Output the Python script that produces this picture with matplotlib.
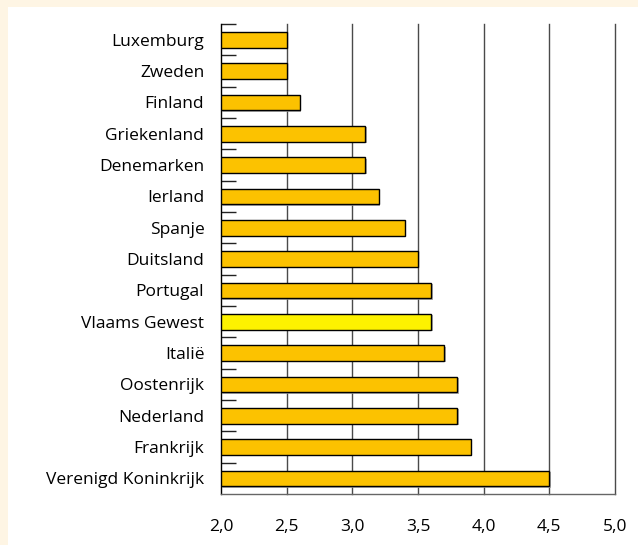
import matplotlib.pyplot as plt
import matplotlib.patheffects as pe
from matplotlib.patches import Rectangle

landen = ['Luxemburg', 'Zweden', 'Finland', 'Griekenland', 'Denemarken', 'Ierland',
          'Spanje', 'Duitsland', 'Portugal', 'Vlaams Gewest', 'Italië', 'Oostenrijk',
          'Nederland', 'Frankrijk', 'Verenigd Koninkrijk']
waarden = [2.5, 2.5, 2.6, 3.1, 3.1, 3.2, 3.4, 3.5, 3.6, 3.6, 3.7, 3.8, 3.8, 3.9, 4.5]
x_ticks = [2.0, 2.5, 3.0, 3.5, 4.0, 4.5, 5.0]
x_labels = ['2,0', '2,5', '3,0', '3,5', '4,0', '4,5', '5,0']

plt.rcParams['font.family'] = ['Open Sans', 'DejaVu Sans']

fig = plt.figure(figsize=(6.38, 5.45), dpi=100)
fig.patch.set_facecolor('#fef5e4')
# witte binnenvlak
fig.patches.append(Rectangle((8 / 638, 0), 1, 1 - 7 / 545, transform=fig.transFigure,
                             facecolor='white', edgecolor='none', zorder=-10))

ax = fig.add_axes([221 / 638, 51 / 545, 394 / 638, 470 / 545])
ax.set_facecolor('white')

kleuren = ['#fdf200' if l == 'Vlaams Gewest' else '#fcc200' for l in landen]
pos = list(range(len(landen)))
balken = ax.barh(pos, [w - 2.0 for w in waarden], left=2.0, height=0.5, color=kleuren,
                 edgecolor='black', linewidth=1.0, zorder=3)
for b in balken:
    b.set_path_effects([pe.SimplePatchShadow(offset=(1, -1), shadow_rgbFace='#999999', alpha=0.8),
                        pe.Normal()])

for x in x_ticks[1:]:
    ax.axvline(x, color='#4a4a4a', linewidth=1.0, zorder=1, clip_on=False)

ax.set_xlim(2.0, 5.0)
ax.set_ylim(len(landen) - 0.5, -0.5)

ax.set_yticks(pos)
ax.set_yticklabels(landen, fontsize=12.5)
ax.tick_params(axis='y', length=0, pad=12)
ax.set_yticks([p - 0.5 for p in pos], minor=True)
ax.tick_params(axis='y', which='minor', direction='in', length=11, width=1.0, color='#222222')

ax.set_xticks(x_ticks)
ax.set_xticklabels(x_labels, fontsize=12.5)
ax.tick_params(axis='x', length=0, pad=18)

ax.spines['top'].set_visible(False)
ax.spines['right'].set_visible(False)
ax.spines['left'].set_color('black')
ax.spines['left'].set_linewidth(1.0)
ax.spines['bottom'].set_color('#666666')
ax.spines['bottom'].set_linewidth(1.0)

plt.savefig('out.png', dpi=100, facecolor=fig.get_facecolor())
